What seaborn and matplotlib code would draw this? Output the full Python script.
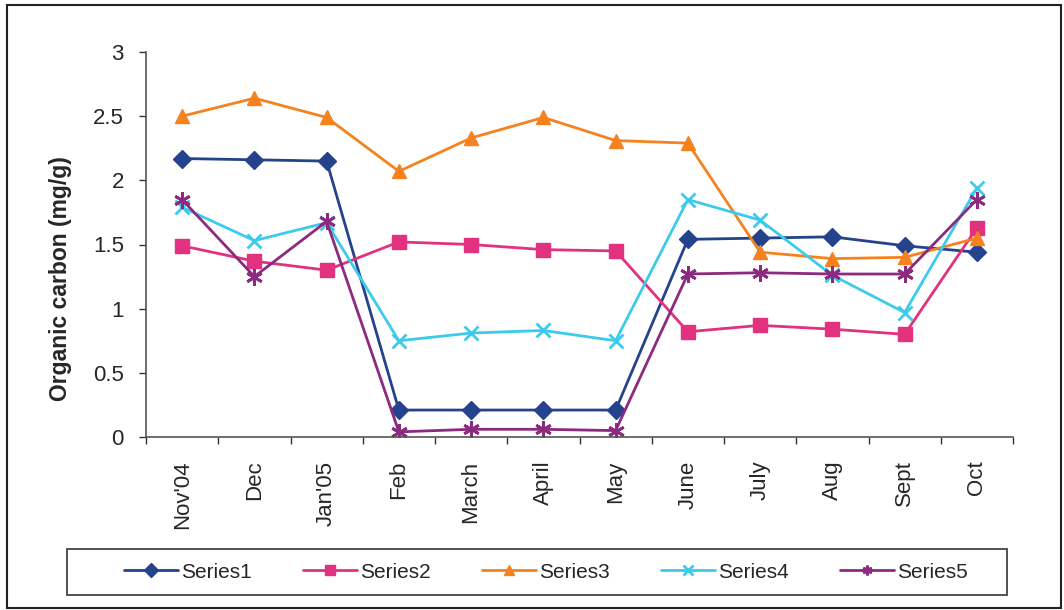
import matplotlib
matplotlib.use("Agg")
import matplotlib.pyplot as plt
from matplotlib.patches import Rectangle
import seaborn as sns
import pandas as pd
import numpy as np

months = ["Nov'04", "Dec", "Jan'05", "Feb", "March", "April", "May",
          "June", "July", "Aug", "Sept", "Oct"]

series1 = [2.17, 2.16, 2.15, 0.21, 0.21, 0.21, 0.21, 1.54, 1.55, 1.56, 1.49, 1.44]
series2 = [1.49, 1.37, 1.30, 1.52, 1.50, 1.46, 1.45, 0.82, 0.87, 0.84, 0.80, 1.63]
series3 = [2.50, 2.64, 2.49, 2.07, 2.33, 2.49, 2.31, 2.29, 1.44, 1.39, 1.40, 1.55]
series4 = [1.79, 1.53, 1.67, 0.75, 0.81, 0.83, 0.75, 1.85, 1.69, 1.26, 0.97, 1.94]
series5 = [1.85, 1.25, 1.68, 0.04, 0.06, 0.06, 0.05, 1.27, 1.28, 1.27, 1.27, 1.85]

series_names = ["Series1", "Series2", "Series3", "Series4", "Series5"]
series_values = [series1, series2, series3, series4, series5]

colors = ["#25428c", "#e2317f", "#f5821f", "#3ccbec", "#8c2a7f"]
markers = ["D", "s", "^", "x", (6, 2, 0)]
msizes = [9, 10, 10, 10, 12]

rows = []
for name, vals in zip(series_names, series_values):
    for i, (m, v) in enumerate(zip(months, vals)):
        rows.append({"series": name, "month": m, "pos": i, "value": v})
df = pd.DataFrame(rows)

sns.set_theme(style="white")
plt.rcParams["font.family"] = ["Liberation Sans", "DejaVu Sans"]

fig = plt.figure(figsize=(10.64, 6.10), dpi=100)
ax = fig.add_axes([146 / 1064, 1 - 437 / 610, (1013 - 146) / 1064, (437 - 52) / 610])

for name, c, mk, ms in zip(series_names, colors, markers, msizes):
    sub = df[df["series"] == name]
    sns.lineplot(data=sub, x="pos", y="value", ax=ax, color=c, lw=2.0,
                 marker=mk, markersize=ms, markeredgecolor=c,
                 markeredgewidth=2.0 if mk in ("x", (6, 2, 0)) else 1.0,
                 label=name, legend=False)

ax.set_xlim(-0.5, len(months) - 0.5)
ax.set_ylim(0, 3)
ax.set_yticks(np.arange(0, 3.01, 0.5))
ax.set_yticklabels(["0", "0.5", "1", "1.5", "2", "2.5", "3"], fontsize=16)

# category labels centred between boundary tick marks
ax.set_xticks(np.arange(len(months)))
ax.set_xticklabels(months, rotation=90, fontsize=16)
ax.tick_params(axis="x", which="major", length=0, pad=17)
ax.set_xticks(np.arange(-0.5, len(months), 1.0), minor=True)
ax.tick_params(axis="x", which="minor", length=5, width=1.0, color="#333333",
               direction="out", bottom=True)
ax.tick_params(axis="y", length=5, width=1.0, color="#333333",
               direction="out", left=True, pad=11)

ax.set_xlabel("")
ax.set_ylabel("")
for side in ("top", "right"):
    ax.spines[side].set_visible(False)
for side in ("left", "bottom"):
    ax.spines[side].set_color("#555555")
    ax.spines[side].set_linewidth(1.2)
ax.grid(False)

fig.text(61 / 1064, 1 - 279 / 610, "Organic carbon (mg/g)", rotation=90,
         ha="center", va="center", fontsize=16.5, fontweight="bold")

# legend box
fig.patches.append(Rectangle((67 / 1064, 1 - 595 / 610), 940 / 1064, 46 / 610,
                             transform=fig.transFigure, fill=False,
                             edgecolor="#444444", lw=1.3))

handles, labels = ax.get_legend_handles_labels()
leg = fig.legend(handles, labels, loc="center", ncol=5, frameon=False,
                 bbox_to_anchor=(546 / 1064, 1 - 572 / 610),
                 fontsize=15, handlelength=2.6, handletextpad=0.15,
                 columnspacing=2.45, borderaxespad=0, borderpad=0)
for h in leg.legend_handles:
    h.set_markersize(7)

# outer frame
fig.patches.append(Rectangle((7 / 1064, 2 / 610), 1054 / 1064, 603 / 610,
                             transform=fig.transFigure, fill=False,
                             edgecolor="#222222", lw=1.5))

fig.savefig("out.png", dpi=100, facecolor="white")
